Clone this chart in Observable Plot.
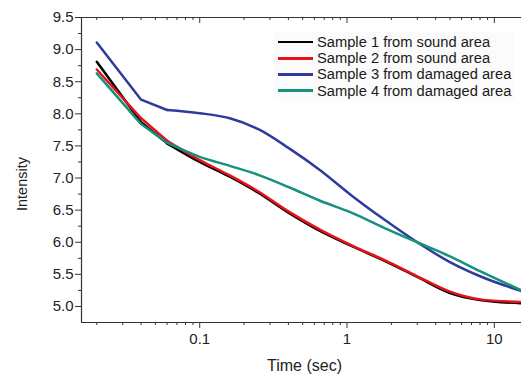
<!DOCTYPE html>
<html>
<head>
<meta charset="utf-8">
<script src="https://cdn.jsdelivr.net/npm/d3@7"></script>
<script src="https://cdn.jsdelivr.net/npm/@observablehq/plot@0.6"></script>
<style>
  html, body { margin: 0; padding: 0; background: #fff; }
  #wrap { position: relative; width: 521px; height: 374px; overflow: hidden; }
  #legend { position: absolute; left: 273px; top: 32px; width: 242px; padding: 2px 0;
            background: #fbfbfb; font-family: "Liberation Sans", Arial, sans-serif; font-size: 14.7px; color: #1a1a1a; }
  .row { display: flex; align-items: center; height: 16.2px; white-space: nowrap; }
  .sw { flex: none; width: 35px; height: 2.5px; margin-left: 5px; margin-right: 4px; }
  #ylab { position: absolute; left: 22px; top: 184px; transform: translate(-50%, -50%) rotate(-90deg);
          font-family: "Liberation Sans", Arial, sans-serif; font-size: 14.5px; color: #222; white-space: nowrap; }
</style>
</head>
<body>
<div id="wrap"><div id="legend"></div><div id="ylab"></div></div>
<script>
// ---- data ----
const times = [0.02, 0.04, 0.06, 0.1, 0.16, 0.25, 0.4, 0.65, 1.1, 1.8, 3, 5, 8, 15.3];
const sample1 = [8.81, 7.87, 7.54, 7.25, 7.02, 6.77, 6.46, 6.18, 5.93, 5.71, 5.46, 5.21, 5.10, 5.05];
const sample2 = [8.69, 7.93, 7.58, 7.28, 7.04, 6.79, 6.48, 6.20, 5.94, 5.72, 5.47, 5.23, 5.11, 5.07];
const sample3 = [9.11, 8.22, 8.06, 8.01, 7.93, 7.76, 7.47, 7.13, 6.71, 6.35, 6.00, 5.69, 5.47, 5.24];
const sample4 = [8.63, 7.84, 7.55, 7.33, 7.19, 7.05, 6.86, 6.65, 6.45, 6.22, 6.00, 5.78, 5.55, 5.25];
const seriesNames = ["Sample 1 from sound area", "Sample 2 from sound area",
                     "Sample 3 from damaged area", "Sample 4 from damaged area"];
const seriesColors = ["#000000", "#e8121c", "#2f3b9c", "#16907f"];
const xMajor = [0.1, 1, 10];
const xMinor = [0.02,0.03,0.04,0.05,0.06,0.07,0.08,0.09,0.2,0.3,0.4,0.5,0.6,0.7,0.8,0.9,2,3,4,5,6,7,8,9];
const yMajor = [5.0, 5.5, 6.0, 6.5, 7.0, 7.5, 8.0, 8.5, 9.0, 9.5];
const yMinor = [5.25, 5.75, 6.25, 6.75, 7.25, 7.75, 8.25, 8.75, 9.25];
const xDomain = [0.01575, 15.3];
const yDomain = [4.75, 9.5];
const xLabel = "Time (sec)";
const yLabel = "Intensity";
const smoothFrom = 0.06; // the first readings are joined by straight segments

// ---- build ----
const allSeries = [sample1, sample2, sample3, sample4];
const rows = [];
allSeries.forEach((vals, i) => vals.forEach((v, j) => rows.push({series: seriesNames[i], t: times[j], v})));
const early = rows.filter(d => d.t <= smoothFrom);
const late = rows.filter(d => d.t >= smoothFrom);

const font = "'Liberation Sans', Arial, sans-serif";
const chart = Plot.plot({
  width: 521, height: 374,
  marginLeft: 81, marginRight: 0, marginTop: 17, marginBottom: 52,
  x: {type: "log", domain: xDomain},
  y: {domain: yDomain},
  color: {domain: seriesNames, range: seriesColors},
  style: {fontFamily: font, fontSize: "15px", color: "#222", background: "transparent"},
  marks: [
    Plot.axisY(yMajor, {tickSize: 6, tickPadding: 2, tickFormat: d => d.toFixed(1), label: null, fontSize: 15, stroke: "#333"}),
    Plot.axisY(yMinor, {tickSize: 3, tickFormat: () => "", label: null, stroke: "#333"}),
    Plot.axisX(xMajor, {tickSize: 6, tickPadding: 5, tickFormat: d => String(d), label: null, fontSize: 15, stroke: "#333"}),
    Plot.axisX(xMinor, {tickSize: 3, tickFormat: () => "", label: null, stroke: "#333"}),
    Plot.ruleX(xMajor, {insetBottom: 299, stroke: "#333"}),
    Plot.ruleX(xMinor, {insetBottom: 302, stroke: "#333"}),
    Plot.ruleX([xDomain[0]], {stroke: "#333", strokeWidth: 1.2}),
    Plot.ruleY([yDomain[0]], {stroke: "#333", strokeWidth: 1.2}),
    Plot.ruleY([yDomain[1]], {stroke: "#333", strokeWidth: 1.2}),
    Plot.line(early, {x: "t", y: "v", z: "series", stroke: "series", strokeWidth: 2.5, curve: "linear", strokeLinejoin: "round"}),
    Plot.line(late, {x: "t", y: "v", z: "series", stroke: "series", strokeWidth: 2.5, curve: "monotone-x"}),
    Plot.text([xLabel], {frameAnchor: "bottom", dx: 3, dy: 48, fontSize: 16, fill: "#222"})
  ]
});
document.getElementById("wrap").prepend(chart);
document.getElementById("ylab").textContent = yLabel;

const legend = document.getElementById("legend");
seriesNames.forEach((name, i) => {
  const r = document.createElement("div");
  r.className = "row";
  const sw = document.createElement("span");
  sw.className = "sw";
  sw.style.background = seriesColors[i];
  const tx = document.createElement("span");
  tx.textContent = name;
  r.appendChild(sw); r.appendChild(tx);
  legend.appendChild(r);
});
</script>
</body>
</html>
